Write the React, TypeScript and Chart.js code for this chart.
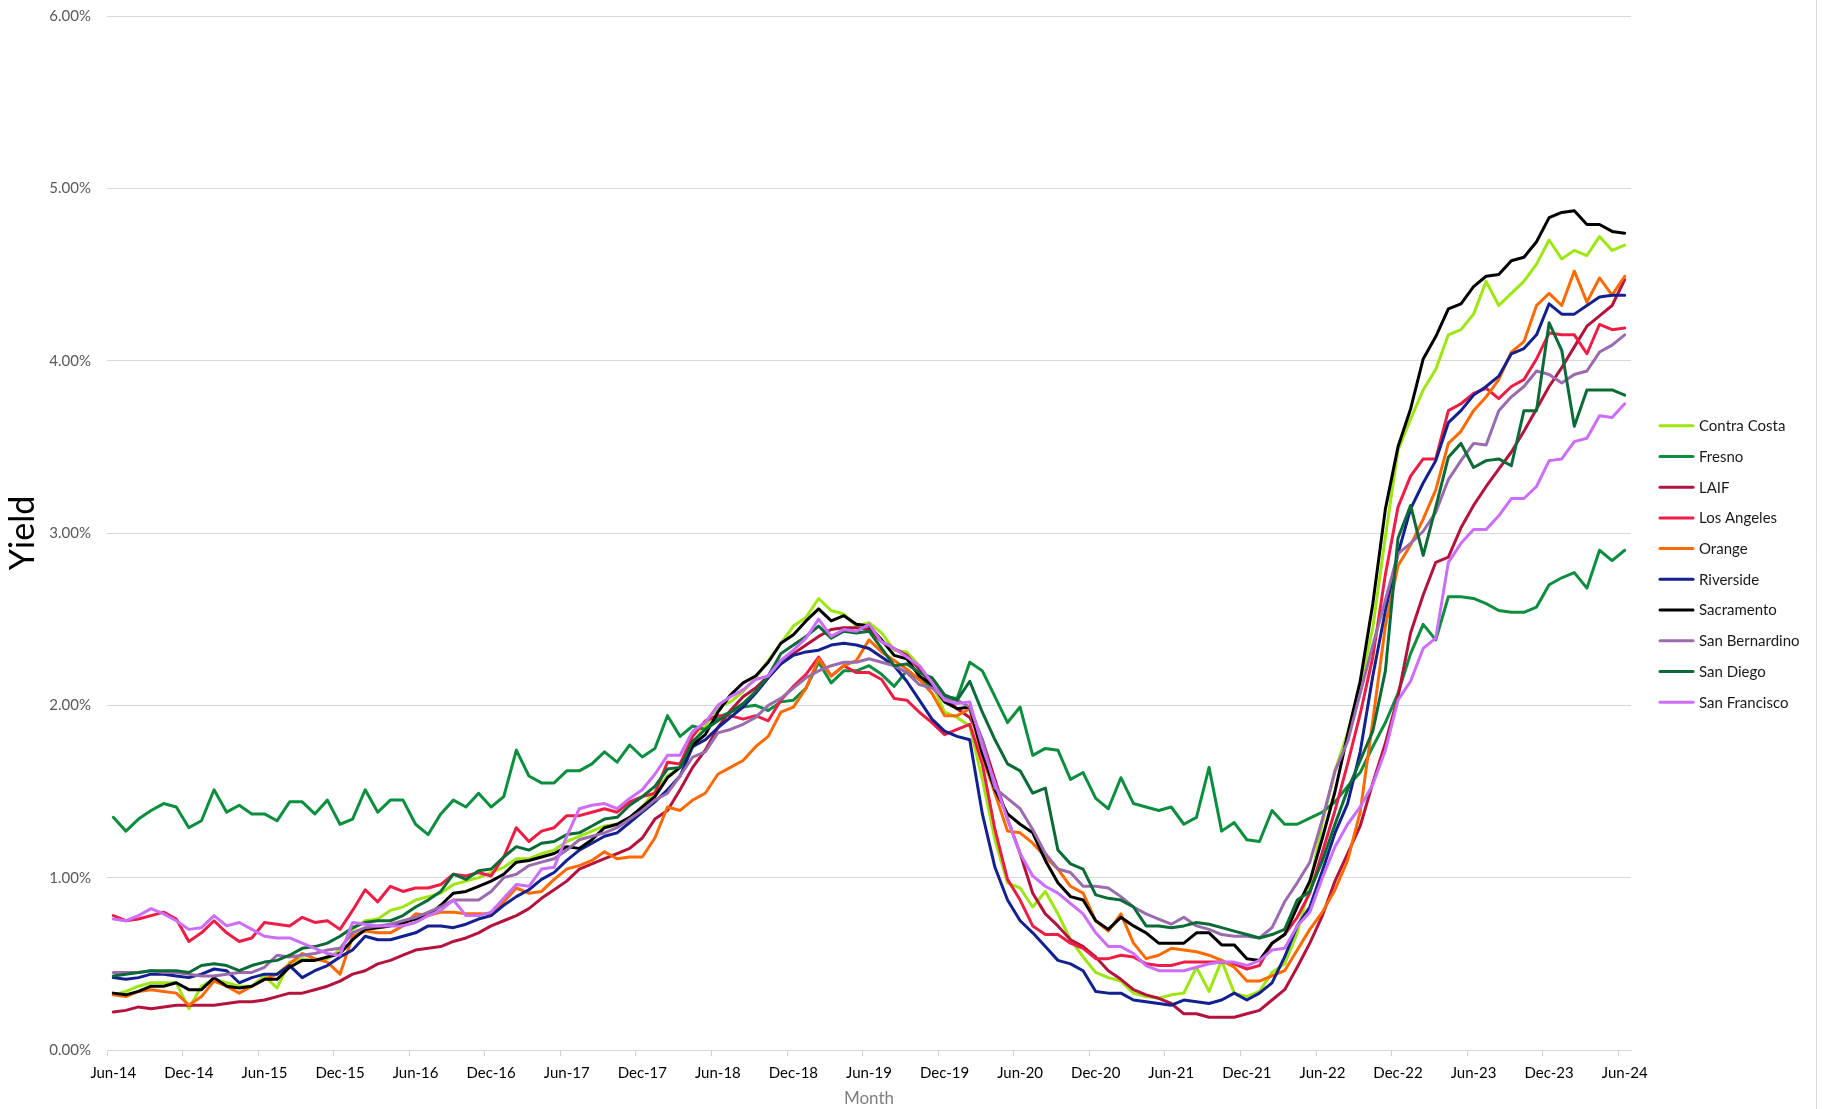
import React, { useEffect, useRef } from 'react';
import { Chart, registerables } from 'chart.js';

Chart.register(...registerables);

const MONTH_NAMES = ['Jan', 'Feb', 'Mar', 'Apr', 'May', 'Jun', 'Jul', 'Aug', 'Sep', 'Oct', 'Nov', 'Dec'];
// Monthly categories Jun-14 .. Jun-24
const categories: string[] = [];
for (let k = 0; k <= 120; k++) {
  const m = (5 + k) % 12;
  const y = 14 + Math.floor((5 + k) / 12);
  categories.push(`${MONTH_NAMES[m]}-${y}`);
}

const seriesNames = [
  'Contra Costa', 'Fresno', 'LAIF', 'Los Angeles', 'Orange',
  'Riverside', 'Sacramento', 'San Bernardino', 'San Diego', 'San Francisco',
];
const seriesColors = [
  '#9de60f', '#0b8f3e', '#b3133d', '#ee1d46', '#ff6a00',
  '#13208f', '#000000', '#9a6cae', '#0a6b36', '#cc6dfc',
];

const contraCosta = [
  0.32,0.34,0.37,0.39,0.39,0.39,0.24,0.37,0.41,0.39,0.37,0.37,0.43,0.36,0.51,0.53,0.52,0.53,0.58,0.70,0.75,0.76,0.81,0.83,0.87,0.89,
  0.91,0.96,0.98,1.00,1.03,1.06,1.11,1.11,1.14,1.16,1.21,1.24,1.27,1.30,1.31,1.34,1.41,1.50,1.59,1.64,1.78,1.88,
  1.99,2.02,2.08,2.16,2.26,2.36,2.46,2.51,2.62,2.55,2.53,2.46,2.48,2.42,2.32,2.31,2.23,2.13,1.96,1.93,1.88,
  1.57,1.22,0.97,0.94,0.83,0.92,0.79,0.64,0.54,0.45,0.42,0.40,0.33,0.31,0.30,0.32,0.33,0.48,0.34,0.52,
  0.33,0.31,0.34,0.45,0.50,0.68,0.95,1.32,1.62,1.84,2.11,2.45,2.98,3.48,3.66,3.83,3.95,
  4.15,4.18,4.27,4.46,4.32,4.39,4.46,4.56,4.70,4.59,4.64,4.61,4.72,4.64,4.67,
];
const fresno = [
  1.35,1.27,1.34,1.39,1.43,1.41,1.29,1.33,1.51,1.38,1.42,1.37,1.37,1.33,1.44,1.44,1.37,1.45,1.31,1.34,1.51,1.38,1.45,1.45,1.31,1.25,
  1.37,1.45,1.41,1.49,1.41,1.47,1.74,1.59,1.55,1.55,1.62,1.62,1.66,1.73,1.67,1.77,1.70,1.75,1.94,1.82,1.88,1.86,
  1.93,1.96,1.99,2.00,1.97,2.02,2.03,2.10,2.25,2.13,2.20,2.20,2.23,2.18,2.11,2.20,2.15,2.11,2.05,2.04,2.25,
  2.20,2.05,1.90,1.99,1.71,1.75,1.74,1.57,1.61,1.46,1.40,1.58,1.43,1.41,1.39,1.41,1.31,1.35,1.64,1.27,
  1.32,1.22,1.21,1.39,1.31,1.31,1.345,1.38,1.44,1.53,1.61,1.76,1.90,2.07,2.30,2.47,2.38,
  2.63,2.63,2.62,2.59,2.55,2.54,2.54,2.57,2.70,2.74,2.77,2.68,2.90,2.84,2.90,
];
const laif = [
  0.22,0.23,0.25,0.24,0.25,0.26,0.26,0.26,0.26,0.27,0.28,0.28,0.29,0.31,0.33,0.33,0.35,0.37,0.40,0.44,0.46,0.50,0.52,0.55,0.58,0.59,
  0.60,0.63,0.65,0.68,0.72,0.75,0.78,0.82,0.88,0.93,0.98,1.05,1.08,1.11,1.14,1.17,1.23,1.34,1.39,1.51,1.64,1.74,
  1.87,1.97,2.05,2.10,2.17,2.26,2.30,2.35,2.40,2.44,2.45,2.45,2.44,2.37,2.33,2.29,2.21,2.12,2.05,1.98,1.93,
  1.80,1.57,1.34,1.14,0.91,0.79,0.72,0.64,0.60,0.54,0.46,0.41,0.35,0.32,0.30,0.27,0.21,0.21,0.19,0.19,
  0.19,0.21,0.23,0.29,0.35,0.48,0.62,0.78,0.98,1.14,1.30,1.55,1.78,2.05,2.42,2.64,2.83,
  2.86,3.03,3.16,3.27,3.37,3.47,3.59,3.72,3.85,3.96,4.08,4.20,4.26,4.32,4.47,
];
const losAngeles = [
  0.78,0.75,0.76,0.78,0.80,0.76,0.63,0.68,0.75,0.68,0.63,0.65,0.74,0.73,0.72,0.77,0.74,0.75,0.70,0.81,0.93,0.86,0.95,0.92,0.94,0.94,
  0.96,1.02,1.01,1.03,1.01,1.12,1.29,1.21,1.27,1.29,1.36,1.36,1.38,1.40,1.38,1.44,1.47,1.49,1.67,1.66,1.82,1.91,
  1.94,1.94,1.92,1.94,1.91,2.03,2.11,2.18,2.28,2.17,2.23,2.19,2.19,2.15,2.04,2.03,1.96,1.90,1.83,1.86,1.89,
  1.66,1.28,0.99,0.87,0.72,0.67,0.67,0.62,0.59,0.53,0.53,0.55,0.54,0.50,0.49,0.49,0.51,0.51,0.51,0.51,
  0.50,0.47,0.49,0.62,0.67,0.77,0.91,1.15,1.39,1.66,1.95,2.28,2.76,3.15,3.33,3.43,3.43,
  3.71,3.75,3.81,3.84,3.78,3.85,3.89,4.01,4.16,4.15,4.15,4.04,4.21,4.18,4.19,
];
const orange = [
  0.32,0.31,0.34,0.35,0.34,0.33,0.26,0.31,0.40,0.37,0.33,0.37,0.41,0.44,0.50,0.56,0.53,0.51,0.44,0.66,0.69,0.68,0.68,0.72,0.79,0.78,
  0.80,0.80,0.79,0.79,0.79,0.86,0.94,0.91,0.92,0.99,1.05,1.07,1.10,1.15,1.11,1.12,1.12,1.23,1.41,1.39,1.45,1.49,
  1.60,1.64,1.68,1.76,1.82,1.96,1.99,2.10,2.27,2.17,2.23,2.26,2.38,2.31,2.26,2.21,2.15,2.07,1.94,1.94,1.98,
  1.70,1.49,1.27,1.26,1.20,1.12,1.05,0.95,0.91,0.75,0.69,0.79,0.62,0.53,0.55,0.59,0.58,0.57,0.55,0.52,
  0.48,0.40,0.40,0.43,0.46,0.58,0.70,0.80,0.93,1.10,1.38,1.91,2.46,2.81,2.93,3.08,3.25,
  3.52,3.59,3.71,3.79,3.89,4.05,4.11,4.32,4.39,4.32,4.52,4.34,4.48,4.38,4.49,
];
const riverside = [
  0.42,0.41,0.42,0.44,0.44,0.43,0.42,0.44,0.47,0.46,0.39,0.42,0.44,0.44,0.49,0.42,0.46,0.49,0.54,0.58,0.66,0.64,0.64,0.66,0.68,0.72,
  0.72,0.71,0.73,0.76,0.78,0.84,0.89,0.93,0.99,1.03,1.10,1.16,1.20,1.24,1.26,1.32,1.38,1.44,1.51,1.59,1.76,1.80,
  1.87,1.93,1.99,2.07,2.16,2.24,2.29,2.31,2.32,2.35,2.36,2.35,2.33,2.28,2.23,2.14,2.03,1.92,1.85,1.82,1.80,
  1.37,1.06,0.87,0.75,0.68,0.60,0.52,0.50,0.46,0.34,0.33,0.33,0.29,0.28,0.27,0.26,0.29,0.28,0.27,0.29,
  0.33,0.29,0.33,0.39,0.54,0.72,0.83,1.04,1.26,1.43,1.73,2.17,2.55,2.88,3.14,3.29,3.42,
  3.64,3.71,3.80,3.85,3.91,4.04,4.07,4.15,4.33,4.27,4.27,4.32,4.37,4.38,4.38,
];
const sacramento = [
  0.33,0.32,0.34,0.37,0.37,0.39,0.35,0.35,0.42,0.37,0.36,0.37,0.41,0.41,0.48,0.52,0.52,0.54,0.56,0.64,0.70,0.71,0.72,0.74,0.76,0.78,
  0.84,0.91,0.92,0.95,0.98,1.02,1.09,1.10,1.12,1.14,1.18,1.17,1.22,1.29,1.31,1.35,1.41,1.47,1.58,1.64,1.77,1.83,
  1.96,2.06,2.13,2.17,2.25,2.36,2.41,2.49,2.56,2.49,2.52,2.47,2.46,2.38,2.29,2.27,2.17,2.12,2.02,1.98,1.99,
  1.72,1.51,1.37,1.31,1.26,1.10,0.97,0.89,0.87,0.75,0.70,0.77,0.72,0.68,0.62,0.62,0.62,0.68,0.68,0.61,
  0.61,0.53,0.52,0.62,0.67,0.83,0.98,1.23,1.50,1.83,2.14,2.59,3.14,3.50,3.72,4.01,4.14,
  4.30,4.33,4.43,4.49,4.50,4.58,4.60,4.69,4.83,4.86,4.87,4.79,4.79,4.75,4.74,
];
const sanBernardino = [
  0.45,0.45,0.45,0.46,0.45,0.45,0.44,0.43,0.43,0.44,0.45,0.45,0.48,0.55,0.54,0.55,0.56,0.58,0.59,0.68,0.71,0.72,0.73,0.75,0.77,0.80,
  0.83,0.87,0.87,0.87,0.92,1.00,1.02,1.07,1.09,1.11,1.16,1.22,1.24,1.26,1.29,1.34,1.39,1.45,1.49,1.59,1.70,1.73,
  1.84,1.86,1.89,1.93,2.00,2.04,2.10,2.16,2.20,2.23,2.25,2.25,2.27,2.25,2.23,2.19,2.12,2.10,2.04,2.03,1.99,
  1.80,1.52,1.46,1.40,1.28,1.14,1.05,1.03,0.95,0.95,0.94,0.89,0.83,0.79,0.76,0.73,0.77,0.72,0.70,0.67,
  0.66,0.66,0.65,0.71,0.86,0.97,1.09,1.34,1.62,1.79,2.07,2.35,2.61,2.88,2.94,3.01,3.12,
  3.31,3.42,3.52,3.51,3.71,3.79,3.85,3.94,3.92,3.87,3.92,3.94,4.05,4.09,4.15,
];
const sanDiego = [
  0.43,0.44,0.45,0.46,0.46,0.46,0.45,0.49,0.50,0.49,0.46,0.49,0.51,0.52,0.55,0.59,0.60,0.62,0.66,0.71,0.74,0.75,0.75,0.78,0.83,0.87,
  0.92,1.02,0.99,1.04,1.05,1.12,1.18,1.16,1.20,1.21,1.25,1.26,1.30,1.34,1.35,1.42,1.47,1.53,1.63,1.64,1.79,1.86,
  1.91,1.96,2.01,2.08,2.17,2.30,2.35,2.40,2.46,2.39,2.43,2.42,2.43,2.33,2.23,2.24,2.19,2.16,2.06,2.03,2.14,
  1.96,1.80,1.66,1.62,1.49,1.52,1.16,1.08,1.05,0.90,0.88,0.87,0.83,0.72,0.72,0.71,0.72,0.74,0.73,0.71,
  0.69,0.67,0.65,0.67,0.70,0.87,0.92,1.10,1.31,1.51,1.68,1.85,2.20,2.97,3.16,2.87,3.15,
  3.44,3.52,3.38,3.42,3.43,3.39,3.71,3.71,4.22,4.06,3.62,3.83,3.83,3.83,3.80,
];
const sanFrancisco = [
  0.76,0.75,0.78,0.82,0.79,0.75,0.70,0.71,0.78,0.72,0.74,0.70,0.66,0.65,0.65,0.62,0.59,0.56,0.55,0.74,0.73,0.72,0.72,0.72,0.74,0.78,
  0.81,0.87,0.78,0.78,0.80,0.88,0.96,0.95,1.05,1.06,1.24,1.40,1.42,1.43,1.40,1.46,1.51,1.60,1.71,1.71,1.85,1.90,
  2.00,2.05,2.09,2.15,2.17,2.26,2.32,2.39,2.50,2.40,2.44,2.43,2.47,2.37,2.33,2.28,2.23,2.13,2.03,2.01,2.02,
  1.76,1.55,1.34,1.14,1.01,0.95,0.91,0.85,0.79,0.68,0.60,0.60,0.56,0.49,0.46,0.46,0.46,0.48,0.50,0.51,
  0.51,0.49,0.52,0.58,0.59,0.72,0.80,1.00,1.18,1.31,1.41,1.54,1.74,2.03,2.14,2.33,2.39,
  2.83,2.94,3.02,3.02,3.10,3.20,3.20,3.27,3.42,3.43,3.53,3.55,3.68,3.67,3.75,
];

const seriesValues = [
  contraCosta, fresno, laif, losAngeles, orange,
  riverside, sacramento, sanBernardino, sanDiego, sanFrancisco,
];

const yTickValues = [0, 1, 2, 3, 4, 5, 6];
const FONT = 'Lato, "Open Sans", "Noto Sans", sans-serif';

const W = 1822;
const H = 1109;
const PLOT_LEFT = 107;
const PLOT_RIGHT = 1631;
const PLOT_TOP = 16;
const PLOT_BOTTOM = 1050;

const legendPlugin = {
  id: 'sideLegend',
  afterDraw(chart: any) {
    const ctx = chart.ctx;
    ctx.save();
    chart.data.datasets.forEach((ds: any, k: number) => {
      const y = 425.7 + k * 30.73;
      ctx.strokeStyle = ds.borderColor;
      ctx.lineWidth = 3;
      ctx.lineCap = 'round';
      ctx.beginPath();
      ctx.moveTo(1660, y);
      ctx.lineTo(1693, y);
      ctx.stroke();
      ctx.fillStyle = '#1a1a1a';
      ctx.font = `15px ${FONT}`;
      ctx.textBaseline = 'middle';
      ctx.textAlign = 'left';
      ctx.fillText(ds.label, 1699, y + 0.5);
    });
    ctx.strokeStyle = '#d9d9d9';
    ctx.lineWidth = 1;
    ctx.beginPath();
    ctx.moveTo(1816.5, 0);
    ctx.lineTo(1816.5, H);
    ctx.stroke();
    ctx.restore();
  },
};

export default function App() {
  const canvasRef = useRef<HTMLCanvasElement>(null);

  useEffect(() => {
    const canvas = canvasRef.current;
    if (!canvas) return;
    const n = seriesNames.length;
    const chart = new Chart(canvas, {
      type: 'line',
      data: {
        labels: categories,
        datasets: seriesNames.map((name, k) => ({
          label: name,
          data: seriesValues[k],
          borderColor: seriesColors[k],
          backgroundColor: seriesColors[k],
          borderWidth: 3,
          pointRadius: 0,
          pointHoverRadius: 0,
          tension: 0,
          fill: false,
          borderJoinStyle: 'round' as const,
          borderCapStyle: 'round' as const,
          order: n - k,
        })),
      },
      options: {
        responsive: false,
        animation: false,
        devicePixelRatio: 1,
        layout: {
          padding: { left: 0, right: W - PLOT_RIGHT, top: PLOT_TOP, bottom: 0 },
        },
        plugins: {
          legend: { display: false },
          tooltip: { enabled: false },
          title: { display: false },
        },
        scales: {
          x: {
            type: 'category',
            offset: true,
            afterFit: (scale: any) => {
              scale.height = H - PLOT_BOTTOM;
              scale.paddingLeft = 0;
              scale.paddingRight = 0;
            },
            grid: {
              display: true,
              drawOnChartArea: false,
              drawTicks: true,
              tickLength: 6,
              offset: true,
              color: (ctx: any) => (ctx.index % 6 === 0 ? '#d0d0d0' : 'rgba(0,0,0,0)'),
            },
            border: { display: true, color: '#d9d9d9', width: 1 },
            ticks: {
              autoSkip: false,
              maxRotation: 0,
              minRotation: 0,
              padding: 8,
              color: '#000000',
              font: { family: FONT, size: 15 },
              callback: (_v: any, idx: number) => (idx % 6 === 0 ? categories[idx] : ''),
            },
            title: {
              display: true,
              text: 'Month',
              color: '#7f7f7f',
              font: { family: FONT, size: 17 },
              padding: { top: 2, bottom: 0 },
            },
          },
          y: {
            min: 0,
            max: 6,
            afterFit: (scale: any) => {
              scale.width = PLOT_LEFT;
              scale.paddingTop = 0;
              scale.paddingBottom = 0;
            },
            afterBuildTicks: (scale: any) => {
              scale.ticks = yTickValues.map((v) => ({ value: v }));
            },
            grid: {
              color: '#d9d9d9',
              lineWidth: 1,
              drawTicks: false,
            },
            border: { display: false },
            ticks: {
              padding: 16,
              color: '#595959',
              font: { family: FONT, size: 15 },
              callback: (v: any) => `${Number(v).toFixed(2)}%`,
            },
            title: {
              display: true,
              text: 'Yield',
              color: '#000000',
              font: { family: FONT, size: 34 },
              padding: { top: 3, bottom: 0 },
            },
          },
        },
      },
      plugins: [legendPlugin],
    });
    return () => chart.destroy();
  }, []);

  return (
    <div style={{ position: 'fixed', left: 0, top: 0, width: W, height: H, background: '#ffffff' }}>
      <canvas ref={canvasRef} width={W} height={H} style={{ display: 'block', width: W, height: H }} />
    </div>
  );
}
